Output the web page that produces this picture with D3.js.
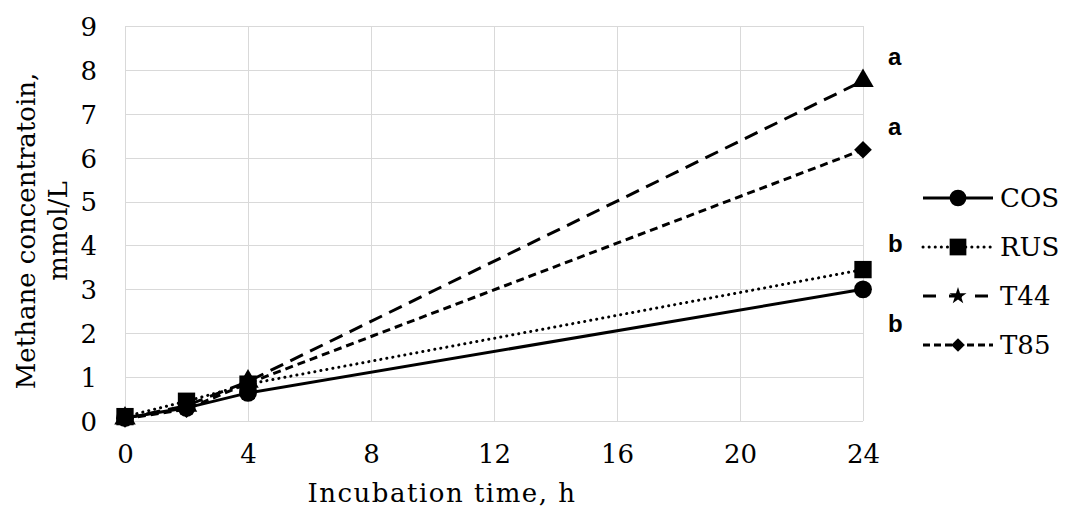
<!DOCTYPE html>
<html>
<head>
<meta charset="utf-8">
<script src="https://d3js.org/d3.v7.min.js"></script>
<style>
  body { margin: 0; background: #fff; }
  .grid line { stroke: #d9d9d9; stroke-width: 1; shape-rendering: crispEdges; }
  .grid path { stroke-width: 0; }
  .tick text { font-family: "DejaVu Serif", serif; font-size: 26px; fill: #000; }
</style>
</head>
<body>
<div id="chart"></div>
<script>
const hours = [0, 2, 4, 24];
const cos = [0.07, 0.30, 0.64, 3.00];
const rus = [0.10, 0.45, 0.84, 3.45];
const t44 = [0.06, 0.35, 0.90, 7.75];
const t85 = [0.05, 0.27, 0.86, 6.18];
const seriesNames = ["COS", "RUS", "T44", "T85"];
const xTicks = [0, 4, 8, 12, 16, 20, 24];
const yTicks = [0, 1, 2, 3, 4, 5, 6, 7, 8, 9];
const letters = ["a", "a", "b", "b"];
const letterValues = [8.3, 6.7, 4.05, 2.23];

const width = 1065, height = 508;
const margin = { left: 125, right: 202, top: 26, bottom: 87 };
const w = width - margin.left - margin.right;
const h = height - margin.top - margin.bottom;

const svg = d3.select("#chart").append("svg")
  .attr("width", width).attr("height", height);
const g = svg.append("g").attr("transform", `translate(${margin.left},${margin.top})`);

const x = d3.scaleLinear().domain([0, 24]).range([0, w]);
const y = d3.scaleLinear().domain([0, 9]).range([h, 0]);

// grid
g.append("g").attr("class", "grid")
  .call(d3.axisLeft(y).tickValues(yTicks).tickSize(-w).tickFormat(""));
g.append("g").attr("class", "grid")
  .attr("transform", `translate(0,${h})`)
  .call(d3.axisBottom(x).tickValues(xTicks).tickSize(h).tickFormat(""))
  .selectAll("line").attr("y2", -h);

// axis labels
const xa = g.append("g").attr("transform", `translate(0,${h})`)
  .call(d3.axisBottom(x).tickValues(xTicks).tickSize(0).tickPadding(24));
xa.select(".domain").remove();
const ya = g.append("g")
  .call(d3.axisLeft(y).tickValues(yTicks).tickSize(0).tickPadding(28));
ya.select(".domain").remove();
ya.selectAll("text").attr("dy", "0.36em");

const series = [
  { name: "COS", vals: cos, dash: null, cap: "butt", marker: "circle" },
  { name: "RUS", vals: rus, dash: "0.1 6", cap: "round", marker: "square" },
  { name: "T44", vals: t44, dash: "14 8", cap: "butt", marker: "triangle" },
  { name: "T85", vals: t85, dash: "8 5", cap: "butt", marker: "diamond" }
];

const line = d3.line().x(d => x(d[0])).y(d => y(d[1]));

series.forEach(s => {
  g.append("path")
    .datum(hours.map((t, i) => [t, s.vals[i]]))
    .attr("fill", "none").attr("stroke", "#000").attr("stroke-width", 3)
    .attr("stroke-linecap", s.cap)
    .attr("stroke-dasharray", s.dash)
    .attr("d", line);
});

const symbolFor = {
  circle: d3.symbol().type(d3.symbolCircle).size(250),
  square: d3.symbol().type(d3.symbolSquare).size(300),
  triangle: d3.symbol().type(d3.symbolTriangle).size(200),
  diamond: d3.symbol().type(d3.symbolDiamond2).size(200)
};
const legendSym = {
  circle: d3.symbol().type(d3.symbolCircle).size(220),
  square: d3.symbol().type(d3.symbolSquare).size(280),
  triangle: d3.symbol().type(d3.symbolStar).size(90),
  diamond: d3.symbol().type(d3.symbolDiamond2).size(120)
};

[series[0], series[2], series[3], series[1]].forEach(s => {
  g.selectAll(null).data(hours.map((t, i) => [t, s.vals[i]])).enter()
    .append("path")
    .attr("transform", d => `translate(${x(d[0])},${y(d[1])})`)
    .attr("d", symbolFor[s.marker]())
    .attr("fill", "#000");
});

// significance letters
g.selectAll(null).data(letters).enter().append("text")
  .attr("x", x(24) + 25)
  .attr("y", (d, i) => y(letterValues[i]))
  .attr("dy", "0.35em")
  .attr("font-family", "Liberation Sans, Arial, sans-serif")
  .attr("font-weight", "bold")
  .attr("font-size", 24)
  .text(d => d);

// legend
const lg = svg.append("g").attr("transform", "translate(923,198)");
series.forEach((s, i) => {
  const row = lg.append("g").attr("transform", `translate(0,${i * 49})`);
  row.append("line").attr("x1", 0).attr("x2", 70).attr("y1", 0).attr("y2", 0)
    .attr("stroke", "#000").attr("stroke-width", 3)
    .attr("stroke-linecap", s.cap)
    .attr("stroke-dasharray", s.name === "T44" ? "13 13" : s.name === "T85" ? "7 4" : s.dash);
  row.append("path").attr("transform", "translate(35,0)")
    .attr("d", legendSym[s.marker]()).attr("fill", "#000");
  row.append("text").attr("x", 77).attr("y", 0).attr("dy", "0.36em")
    .attr("font-family", "DejaVu Serif, serif").attr("font-size", 26)
    .text(seriesNames[i]);
});

// axis titles
svg.append("text")
  .attr("x", 442).attr("y", 502)
  .attr("text-anchor", "middle")
  .attr("font-family", "DejaVu Serif, serif").attr("font-size", 26)
  .attr("letter-spacing", 1.5)
  .text("Incubation time, h");

const yt = svg.append("text")
  .attr("transform", "translate(0,231) rotate(-90)")
  .attr("text-anchor", "middle")
  .attr("font-family", "DejaVu Serif, serif").attr("font-size", 26);
yt.append("tspan").attr("x", 0).attr("y", 35).text("Methane concentratoin,");
yt.append("tspan").attr("x", 0).attr("y", 67).text("mmol/L");
</script>
</body>
</html>
